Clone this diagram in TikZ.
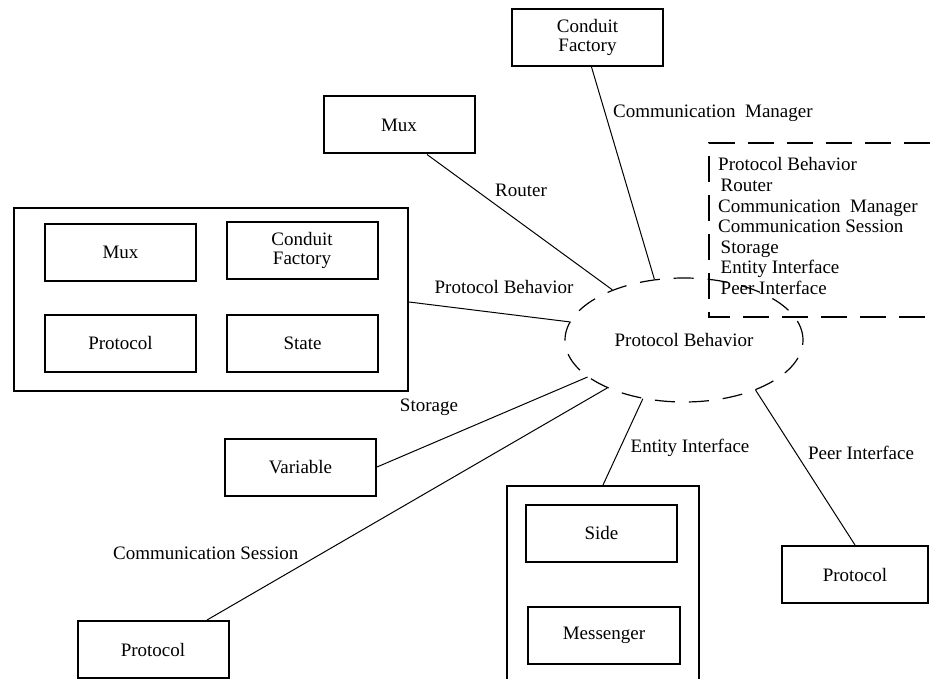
\documentclass[tikz,border=0pt]{standalone}
\usepackage{fontspec}
\setmainfont{Liberation Serif}
\usetikzlibrary{shapes.geometric}
\begin{document}
\begin{tikzpicture}[x=1pt,y=-1pt,
  every node/.style={font=\fontsize{19}{19.5}\selectfont},
  box/.style={draw, line width=2pt, rectangle, inner sep=0pt,
    minimum width=151pt, minimum height=57pt, align=center},
  link/.style={line width=1pt},
  lbl/.style={inner sep=0pt},
  listline/.style={inner sep=0pt, anchor=base west},
  hub/.style={ellipse, draw, line width=1.2pt, dash pattern=on 20pt off 14pt,
    minimum width=238pt, minimum height=124pt, inner sep=0pt},
  ifacebox/.style={line width=2pt, dash pattern=on 26pt off 13pt}
]
\useasboundingbox (0,0) rectangle (930,679);
\clip (0,0) rectangle (930,679);
\fill[white] (0,0) rectangle (930,679);

% central component
\node[hub] (pb) at (684,340) {Protocol Behavior};

% surrounding components
\node[box] (cftop) at (587.5,37.5) {Conduit\\Factory};
\node[box] (muxtop) at (399,125) {Mux};

\node[box, minimum width=394pt, minimum height=183pt] (grp) at (211,299.5) {};
\node[box] (gmux) at (120.5,252.5) {Mux};
\node[box] (gcf) at (302,250.5) {Conduit\\Factory};
\node[box] (gproto) at (120.5,343.5) {Protocol};
\node[box] (gstate) at (302.5,343.5) {State};

\node[box] (var) at (300.5,467) {Variable};
\node[box] (protoL) at (153,649.5) {Protocol};

\node[box, minimum width=192pt, minimum height=240pt, anchor=north] (ent) at (603,485) {};
\node[box] (side) at (601.5,533.5) {Side};
\node[box, minimum width=152pt] (msg) at (604,635.5) {Messenger};

\node[box, minimum width=146pt] (protoR) at (855,574.5) {Protocol};

% connectors
\draw[link] ([xshift=4pt]cftop.south) -- (pb.116.6);
\draw[link] ([xshift=28pt]muxtop.south) -- (pb.145);
\draw[link] ([yshift=-2.5pt]grp.east) -- (pb.171);
\draw[link] (var.east) -- (pb.201);
\draw[link] ([xshift=54pt]protoL.north) -- (pb.212);
\draw[link] (ent.north) -- (pb.235);
\draw[link] (protoR.north) -- (pb.325);

% connector labels
\node[lbl, anchor=west] (lcm) at (613,113) {Communication\ \ Manager};
\node[lbl] (lrouter) at (521,190) {Router};
\node[lbl] (lpb) at (504,287) {Protocol Behavior};
\node[lbl] (lsto) at (429,407) {Storage};
\node[lbl] (lent) at (690,448) {Entity Interface};
\node[lbl] (lpeer) at (861,453) {Peer Interface};
\node[lbl, anchor=west] (lcs) at (113,553) {Communication Session};

% interface list
\draw[ifacebox] (930,143) -- (709,143) -- (709,317) -- (930,317);
\node[listline] (i1) at (718,171) {Protocol Behavior};
\node[listline] (i2) at (720.5,191.6) {Router};
\node[listline] (i3) at (718,212.2) {Communication\ \ Manager};
\node[listline] (i4) at (718,232.8) {Communication Session};
\node[listline] (i5) at (720.5,253.4) {Storage};
\node[listline] (i6) at (720.5,274) {Entity Interface};
\node[listline] (i7) at (720.5,294.6) {Peer Interface};
\end{tikzpicture}
\end{document}
